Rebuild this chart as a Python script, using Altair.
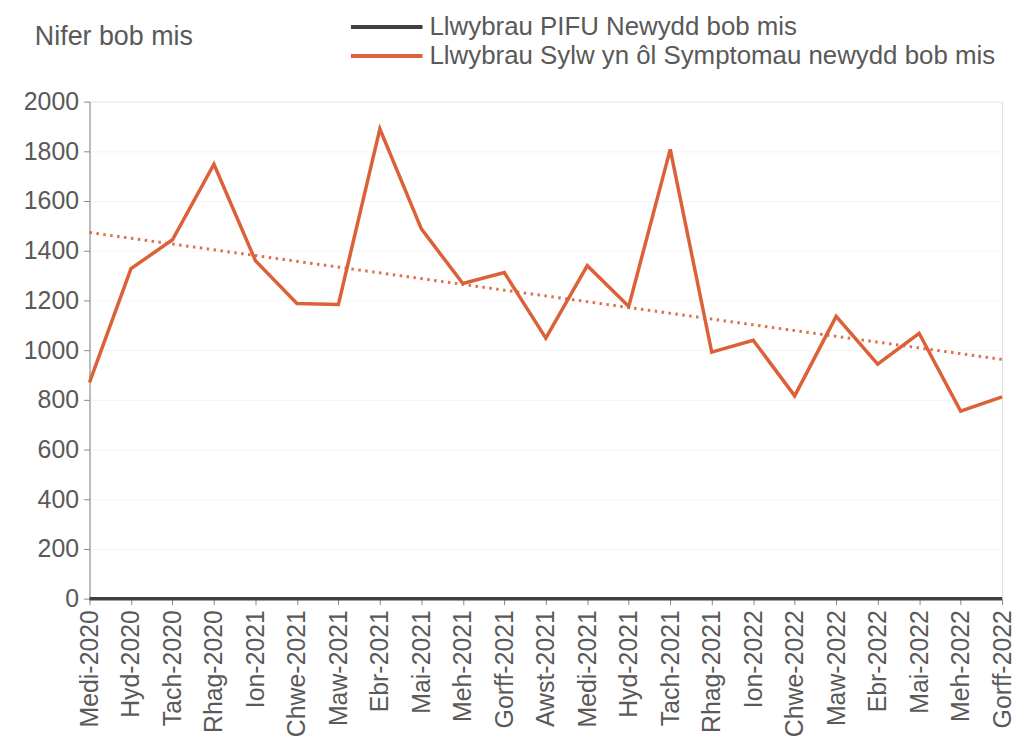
import altair as alt
import pandas as pd

months = ["Medi-2020", "Hyd-2020", "Tach-2020", "Rhag-2020", "Ion-2021", "Chwe-2021",
          "Maw-2021", "Ebr-2021", "Mai-2021", "Meh-2021", "Gorff-2021", "Awst-2021",
          "Medi-2021", "Hyd-2021", "Tach-2021", "Rhag-2021", "Ion-2022", "Chwe-2022",
          "Maw-2022", "Ebr-2022", "Mai-2022", "Meh-2022", "Gorff-2022"]
pifu = [0] * 23
sylw = [870, 1328, 1444, 1748, 1360, 1188, 1184, 1890, 1488, 1268, 1312, 1048,
        1340, 1176, 1808, 992, 1040, 816, 1136, 944, 1068, 755, 812]
series_names = ["Llwybrau PIFU Newydd bob mis",
                "Llwybrau Sylw yn ôl Symptomau newydd bob mis"]
y_ticks = list(range(0, 2001, 200))

rows = []
for i, m in enumerate(months):
    rows.append({"idx": i, "month": m, "series": series_names[0], "value": pifu[i]})
for i, m in enumerate(months):
    rows.append({"idx": i, "month": m, "series": series_names[1], "value": sylw[i]})
df = pd.DataFrame(rows)

FONT = "Liberation Sans"
TXT = "#595959"
ORANGE = "#DC6139"
DARK = "#404040"

label_arr = "[" + ",".join("'" + m + "'" for m in months) + "]"

x_enc = alt.X("idx:Q",
              scale=alt.Scale(domain=[0, 22], nice=False, zero=False),
              axis=alt.Axis(values=list(range(23)), labelExpr=label_arr + "[datum.value]",
                            labelAngle=-90, labelFontSize=25, labelColor=TXT, labelFont=FONT,
                            labelPadding=5, tickColor="#888888", tickSize=6,
                            domainColor="#888888", grid=False, title=None, labelOverlap=False))
y_enc = alt.Y("value:Q",
              scale=alt.Scale(domain=[0, 2000], nice=False),
              axis=alt.Axis(values=y_ticks, format="d", labelFontSize=25, labelColor=TXT,
                            labelFont=FONT, tickColor="#888888", tickSize=6,
                            domainColor="#888888", gridColor="#f4f4f4", labelPadding=5,
                            title=None))

lines = alt.Chart(df).mark_line(strokeWidth=3.5).encode(
    x=x_enc, y=y_enc,
    color=alt.Color("series:N",
                    scale=alt.Scale(domain=series_names, range=[DARK, ORANGE]),
                    legend=alt.Legend(title=None, orient="none", legendX=309, legendY=-89,
                                      labelFontSize=26, labelFont=FONT, labelColor=TXT,
                                      labelLimit=800, symbolType="M-5,0H1", symbolSize=576,
                                      symbolStrokeWidth=4, rowPadding=2, labelOffset=5,
                                      padding=0)),
    order=alt.Order("idx:Q"),
)

trend = alt.Chart(df).transform_filter(
    alt.datum.series == series_names[1]
).transform_regression("idx", "value").mark_line(
    color=ORANGE, strokeWidth=3, strokeDash=[2.5, 4.5], opacity=0.9
).encode(x="idx:Q", y="value:Q")

title_df = pd.DataFrame({"t": ["Nifer bob mis"]})
title = alt.Chart(title_df).mark_text(
    align="left", baseline="middle", fontSize=27, font=FONT, color=TXT
).encode(text="t:N", x=alt.value(-55), y=alt.value(-65))

chart = alt.layer(trend, lines, title).properties(
    width=918, height=500,
    autosize=alt.AutoSizeParams(type="none"),
    padding={"left": 82, "top": 92, "right": 15, "bottom": 141},
).configure_view(stroke=None).configure(background="white")

chart.save("out.html", embed_options={"renderer": "svg", "actions": False})
